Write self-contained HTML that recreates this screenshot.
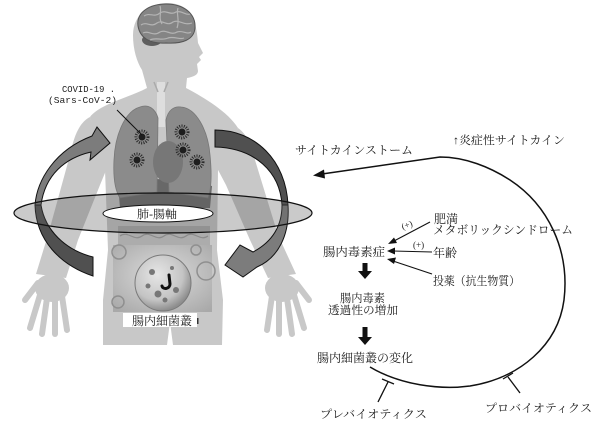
<!DOCTYPE html>
<html><head><meta charset="utf-8"><style>
html,body{margin:0;padding:0;background:#fff;}
svg{display:block;}
.t{font-family:"Liberation Serif","Noto Serif CJK SC","Noto Sans CJK JP",serif;fill:#1c1c1c;}
</style></head><body>
<svg width="600" height="436" viewBox="0 0 600 436" xmlns="http://www.w3.org/2000/svg">
<defs>
<radialGradient id="gb" cx="50%" cy="45%" r="70%"><stop offset="0" stop-color="#dcdcdc"/><stop offset="1" stop-color="#a9a9a9"/></radialGradient>
<radialGradient id="sp" cx="40%" cy="35%" r="65%"><stop offset="0" stop-color="#e6e6e6"/><stop offset="0.7" stop-color="#c4c4c4"/><stop offset="1" stop-color="#8e8e8e"/></radialGradient>
</defs>
<rect width="600" height="436" fill="#fff"/>

<!-- silhouette -->
<g fill="#c8c8c8">
<path d="M168,3 C150,3 133,14 133,35 C133,50 137,62 142,70 L147,88 C128,98 100,104 90,117 L105,170 L108,250 L103,300 L103,345 L167,345 L170,322 L173,345 L222,345 L223,300 L217,250 L218,170 L238,128 C228,112 205,98 186,88 L187,78 C193,77 198,75 198,71 L197,64 L201,60 L199,57 L203,53 L198,43 C197,30 195,20 190,12 C184,6 176,3 168,3 Z"/>
<path d="M90,117 C80,122 74,135 70,155 L48,235 L36,274 L66,278 L78,240 L100,185 L107,168 Z"/>
<path d="M238,128 C248,135 252,148 255,160 L278,235 L296,274 L268,278 L250,240 L226,185 L217,168 Z"/>
<ellipse cx="52" cy="288" rx="17" ry="14"/>
<ellipse cx="282" cy="288" rx="17" ry="14"/>
</g>
<g stroke="#c8c8c8" stroke-width="6" stroke-linecap="round">
<line x1="40" y1="295" x2="30" y2="328"/><line x1="47" y1="298" x2="42" y2="334"/><line x1="55" y1="298" x2="55" y2="334"/><line x1="62" y1="296" x2="67" y2="330"/><line x1="38" y1="283" x2="25" y2="300"/>
<line x1="294" y1="295" x2="304" y2="328"/><line x1="287" y1="298" x2="292" y2="334"/><line x1="279" y1="298" x2="279" y2="334"/><line x1="272" y1="296" x2="267" y2="330"/><line x1="296" y1="283" x2="309" y2="300"/>
</g>

<!-- brain -->
<ellipse cx="152" cy="40" rx="10" ry="6" fill="#5e5e5e"/>
<path d="M138,26 C136,12 150,4 166,4 C184,4 196,14 195,28 C194,40 182,44 166,43 C150,44 140,38 138,26 Z" fill="#858585" stroke="#555" stroke-width="1"/>
<g fill="none" stroke="#b4b4b4" stroke-width="1.2">
<path d="M144,16 C150,12 154,18 160,13 C166,9 170,16 176,12 C182,10 186,16 190,14"/>
<path d="M141,25 C147,21 151,28 157,23 C163,19 167,27 173,22 C179,19 184,26 192,23"/>
<path d="M143,33 C149,30 153,37 160,32 C166,29 171,36 177,32 C183,30 187,35 191,32"/>
<path d="M150,40 C156,37 162,41 168,38 C174,36 180,40 184,38"/>
<path d="M160,6 C162,12 158,18 162,24 M178,8 C176,14 180,20 177,28"/>
</g>

<!-- trachea -->
<rect x="157" y="82" width="8" height="45" fill="#dedede"/>
<path d="M154,82 L158,92 M168,82 L164,92" stroke="#aaa" stroke-width="1.5"/>

<!-- liver / organs -->
<path d="M118,183 Q165,174 212,186 L210,208 L120,208 Z" fill="#686868"/>
<!-- lungs -->
<path d="M140,107 C125,111 115,135 114,160 C113,180 116,192 120,198 L157,192 L158,118 C155,108 148,104 140,107 Z" fill="#8b8b8b" stroke="#777" stroke-width="0.8"/>
<path d="M181,107 C196,108 208,130 210,155 C212,175 211,190 208,198 L169,192 L166,120 C168,110 174,106 181,107 Z" fill="#8b8b8b" stroke="#777" stroke-width="0.8"/>
<ellipse cx="168" cy="162" rx="15" ry="21" fill="#777"/>
<!-- viruses -->
<g>
<g fill="#1e1e1e"><circle cx="142" cy="137" r="3.5"/><circle cx="137" cy="160" r="3.5"/><circle cx="182" cy="132" r="3.5"/><circle cx="183" cy="150" r="3.5"/><circle cx="197" cy="162" r="3.5"/></g>
<g fill="none" stroke="#2a2a2a" stroke-width="3" stroke-dasharray="1 1.3"><circle cx="142" cy="137" r="6"/><circle cx="137" cy="160" r="6"/><circle cx="182" cy="132" r="6"/><circle cx="183" cy="150" r="6"/><circle cx="197" cy="162" r="6"/></g>
</g>
<line x1="117" y1="110" x2="142" y2="135" stroke="#111" stroke-width="1"/>

<!-- intestines -->
<rect x="118" y="226" width="92" height="20" fill="#acacac"/>
<path d="M120,236 C128,230 134,242 142,236 C150,230 156,242 164,236 C172,230 178,242 186,236 C194,230 200,242 208,236" fill="none" stroke="#8a8a8a" stroke-width="1.2"/>

<!-- arrows (under ellipse) -->
<path d="M35,205 C37,180 55,150 92,136 L97,127 L110,143 L90,160 L91,152 C65,158 45,175 41,205 Z" fill="#7c7c7c" stroke="#111" stroke-width="1"/>
<path d="M35,205 C36,240 60,265 93,276 L93,257 C65,250 45,230 41,205 Z" fill="#505050" stroke="#111" stroke-width="1"/>
<path d="M215,130 C255,130 286,160 288,205 L282,205 C280,172 255,148 215,147 Z" fill="#505050" stroke="#111" stroke-width="1"/>
<path d="M288,205 C290,235 278,258 257,267 L243,277 L225,265 L240,245 L253,252 C270,243 282,228 282,205 Z" fill="#7c7c7c" stroke="#111" stroke-width="1"/>

<!-- big ellipse -->
<ellipse cx="163" cy="213" rx="149" ry="20" fill="rgba(95,95,95,0.33)" stroke="#111" stroke-width="1.2"/>
<ellipse cx="158" cy="213.5" rx="55" ry="8.5" fill="#fff" stroke="#111" stroke-width="1"/>
<text class="t" x="137" y="218" font-size="11.5" textLength="40" lengthAdjust="spacingAndGlyphs">肺-腸軸</text>

<!-- gut image -->
<rect x="113" y="245" width="99" height="67" fill="url(#gb)"/>
<g fill="none" stroke="#8f8f8f" stroke-width="1.5">
<circle cx="119" cy="252" r="7"/><circle cx="206" cy="271" r="9"/><circle cx="118" cy="302" r="6"/><circle cx="196" cy="250" r="5"/>
</g>
<circle cx="163" cy="283" r="28" fill="url(#sp)" stroke="#7a7a7a" stroke-width="1"/>
<g fill="#777"><circle cx="152" cy="272" r="3"/><circle cx="158" cy="294" r="3.5"/><circle cx="176" cy="290" r="3"/><circle cx="148" cy="286" r="2.5"/><circle cx="172" cy="268" r="2"/><circle cx="165" cy="300" r="2.5"/></g>
<path d="M169,275 L170,284 C170,289 163,290 162,286" fill="none" stroke="#111" stroke-width="3" stroke-linecap="round"/>
<rect x="123" y="313" width="74" height="14" fill="#fff"/>
<text class="t" x="132" y="325" font-size="12" textLength="60" lengthAdjust="spacingAndGlyphs">腸内細菌叢</text>
<rect x="197" y="318" width="1.5" height="6" fill="#333"/>

<!-- COVID label -->
<text x="62" y="92" font-family="Liberation Mono, monospace" font-size="9.5" fill="#222" textLength="53" lengthAdjust="spacingAndGlyphs">COVID-19 .</text>
<text x="48" y="103" font-family="Liberation Mono, monospace" font-size="9.5" fill="#222" textLength="69" lengthAdjust="spacingAndGlyphs">(Sars-CoV-2)</text>

<!-- right diagram -->
<text class="t" x="295" y="154" font-size="11.5" textLength="118" lengthAdjust="spacingAndGlyphs">サイトカインストーム</text>
<text class="t" x="453" y="144" font-size="11.5" textLength="112" lengthAdjust="spacingAndGlyphs">↑炎症性サイトカイン</text>

<path d="M370,367 C400,385 440,390 470,386 C520,378 558,345 564,300 C570,250 548,205 510,180 C490,167 465,157 440,157 L322,174" fill="none" stroke="#111" stroke-width="1.5"/>
<path d="M313,175.5 L324,169.5 L325,178.5 Z" fill="#111"/>

<text class="t" x="434" y="223" font-size="12" textLength="24" lengthAdjust="spacingAndGlyphs">肥満</text>
<text class="t" x="433" y="234" font-size="12" textLength="140" lengthAdjust="spacingAndGlyphs">メタボリックシンドローム</text>
<text class="t" x="323" y="256" font-size="12" textLength="62" lengthAdjust="spacingAndGlyphs">腸内毒素症</text>
<text class="t" x="433" y="257" font-size="12" textLength="24" lengthAdjust="spacingAndGlyphs">年齢</text>
<text class="t" x="433" y="285" font-size="12" textLength="87" lengthAdjust="spacingAndGlyphs">投薬（抗生物質）</text>
<text class="t" x="401" y="228" font-size="9" transform="rotate(-20 407 224)">(+)</text>
<text class="t" x="413" y="248" font-size="9">(+)</text>

<g stroke="#111" stroke-width="1.1">
<line x1="430" y1="222" x2="394" y2="241"/>
<line x1="432" y1="252" x2="393" y2="251"/>
<line x1="432" y1="274" x2="393" y2="261"/>
</g>
<g fill="#111">
<path d="M388,244 L394,237.5 L397,243 Z"/>
<path d="M387,251 L395,247.5 L395,254.5 Z"/>
<path d="M387,259 L396,257.5 L394,264 Z"/>
</g>

<!-- thick down arrows -->
<path d="M362.5,263 L367.5,263 L367.5,271 L372,271 L365,279 L358,271 L362.5,271 Z" fill="#111"/>
<path d="M362.5,327 L367.5,327 L367.5,337 L372,337 L365,345 L358,337 L362.5,337 Z" fill="#111"/>

<text class="t" x="340" y="302" font-size="11.5" textLength="45" lengthAdjust="spacingAndGlyphs">腸内毒素</text>
<text class="t" x="328" y="314" font-size="11.5" textLength="70" lengthAdjust="spacingAndGlyphs">透過性の増加</text>
<text class="t" x="317" y="362" font-size="12" textLength="96" lengthAdjust="spacingAndGlyphs">腸内細菌叢の変化</text>

<!-- T bars -->
<g stroke="#111" stroke-width="1.3">
<line x1="378" y1="402" x2="388" y2="382"/>
<line x1="382" y1="379" x2="394" y2="384"/>
<line x1="520" y1="393" x2="508" y2="377"/>
<line x1="503" y1="379" x2="513" y2="373"/>
</g>
<text class="t" x="320" y="418" font-size="11.5" textLength="107" lengthAdjust="spacingAndGlyphs">プレバイオティクス</text>
<text class="t" x="485" y="412" font-size="11.5" textLength="107" lengthAdjust="spacingAndGlyphs">プロバイオティクス</text>
</svg>
</body></html>
